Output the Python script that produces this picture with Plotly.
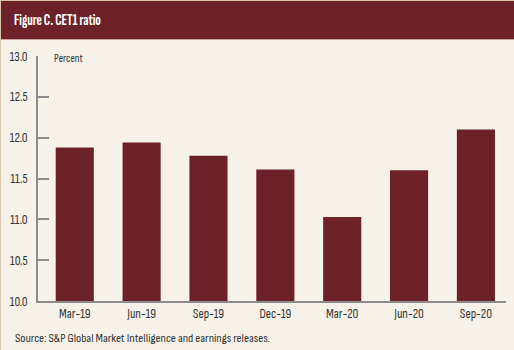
import plotly.graph_objects as go

quarters = ["Mar-19", "Jun-19", "Sep-19", "Dec-19", "Mar-20", "Jun-20", "Sep-20"]
cet1_ratio = [11.88, 11.94, 11.78, 11.61, 11.03, 11.60, 12.10]
y_ticks = [10.0, 10.5, 11.0, 11.5, 12.0, 12.5, 13.0]
y_tick_text = ["10.0", "10.5", "11.0", "11.5", "12.0", "12.5", "13.0"]

W, H = 514, 350
L, R, T, B = 38, 8, 56, 49
plot_w = W - L - R
plot_h = H - T - B


def px_x(px):
    return (px - L) / plot_w


def px_y(py):
    return (H - B - py) / plot_h


BAR = "#6d2129"
BG = "#f6f2ea"
AXIS = "#8c8c8c"
TEXT = "#333333"
FONT = "Sofia Sans Condensed, Roboto Condensed, sans-serif"
TITLE_FONT = "Sofia Sans Extra Condensed, Sofia Sans Condensed, sans-serif"

fig = go.Figure(
    go.Bar(
        x=list(range(len(quarters))),
        y=cet1_ratio,
        marker=dict(color=BAR, line=dict(width=0)),
        width=0.57,
    )
)

fig.update_layout(
    width=W,
    height=H,
    margin=dict(l=L, r=R, t=T, b=B),
    paper_bgcolor=BG,
    plot_bgcolor=BG,
    showlegend=False,
    font=dict(family=FONT, size=13, color=TEXT),
    xaxis=dict(
        range=[-0.55, 6.45],
        tickmode="array",
        tickvals=list(range(len(quarters))),
        ticktext=quarters,
        showline=True,
        linecolor=AXIS,
        linewidth=1.5,
        ticks="",
        showgrid=False,
        zeroline=False,
        tickfont=dict(family=FONT, size=13, color=TEXT),
    ),
    yaxis=dict(
        range=[10, 13],
        tickmode="array",
        tickvals=y_ticks,
        ticktext=y_tick_text,
        showline=True,
        linecolor=AXIS,
        linewidth=1.5,
        ticks="inside",
        ticklen=11,
        tickwidth=1.5,
        tickcolor=AXIS,
        ticklabelstandoff=6,
        showgrid=False,
        zeroline=False,
        tickfont=dict(family=FONT, size=13, color=TEXT),
    ),
    shapes=[
        # header band
        dict(type="rect", xref="paper", yref="paper",
             x0=px_x(-2), x1=px_x(W + 2), y0=px_y(39), y1=px_y(1),
             fillcolor=BAR, line=dict(width=0), layer="below"),
        dict(type="line", xref="paper", yref="paper",
             x0=px_x(0), x1=px_x(W), y0=px_y(39.5), y1=px_y(39.5),
             line=dict(color="#c9a3a3", width=1)),
        dict(type="line", xref="paper", yref="paper",
             x0=px_x(0), x1=px_x(W), y0=px_y(0.5), y1=px_y(0.5),
             line=dict(color="#d8c2a8", width=1)),
        dict(type="line", xref="paper", yref="paper",
             x0=px_x(0.5), x1=px_x(0.5), y0=px_y(H), y1=px_y(0),
             line=dict(color="#d8c8b0", width=1)),
    ],
    annotations=[
        dict(text="<b>Figure C. CET1 ratio</b>", xref="paper", yref="paper",
             x=px_x(12), y=px_y(20), xanchor="left", yanchor="middle",
             showarrow=False, font=dict(family=TITLE_FONT, size=15, color="#ffffff")),
        dict(text="Percent", xref="paper", yref="paper",
             x=px_x(52), y=px_y(58), xanchor="left", yanchor="middle",
             showarrow=False, font=dict(family=FONT, size=11, color=TEXT)),
        dict(text="Source: S&P Global Market Intelligence and earnings releases.",
             xref="paper", yref="paper",
             x=px_x(13), y=px_y(338), xanchor="left", yanchor="middle",
             showarrow=False, font=dict(family=FONT, size=12.5, color=TEXT)),
    ],
)

fig.write_html("out.html")
